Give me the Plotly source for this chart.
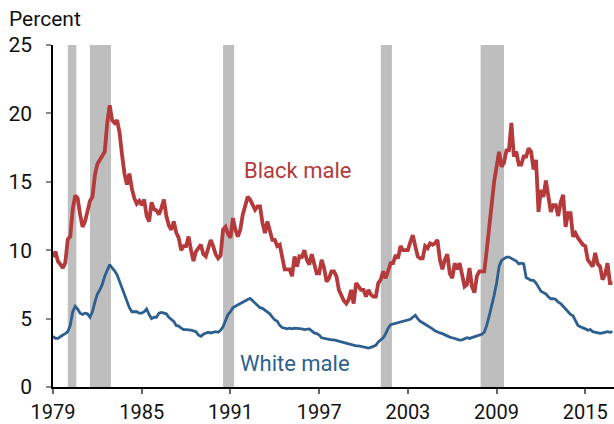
import plotly.graph_objects as go

years = list(range(1979, 2017))
months = [1, 3, 5, 7, 9, 11]

black_male = [
    9.5, 9.9, 9.2, 8.9, 8.7, 9.1,
    10.8, 11.0, 13.0, 14.0, 13.8, 12.6,
    11.7, 12.1, 12.9, 13.6, 13.9, 15.5,
    16.3, 16.6, 17.0, 17.2, 19.3, 20.6,
    19.5, 19.3, 19.5, 18.6, 17.0, 15.6,
    14.8, 15.6, 14.5, 13.8, 13.4, 13.6,
    13.3, 13.7, 12.5, 12.1, 13.5, 13.0,
    12.9, 12.6, 13.1, 13.7, 12.5, 11.8,
    11.5, 12.1, 11.3, 10.9, 10.0, 10.3,
    10.3, 11.0, 10.0, 9.2, 9.9, 10.2,
    10.4, 9.7, 9.55, 10.15, 10.75, 10.3,
    9.7, 9.4, 9.6, 11.5, 11.7, 11.2,
    10.9, 12.35, 11.5, 11.0, 11.5, 12.6,
    13.4, 13.9, 13.7, 13.3, 12.95, 13.2,
    13.2, 12.0, 11.25, 12.1, 11.4, 10.75,
    10.75, 10.3, 10.4, 9.3, 8.6, 8.6,
    8.6, 8.1, 9.55, 8.8, 9.55, 9.5,
    10.0, 9.3, 8.95, 9.7, 9.0, 8.3,
    8.3, 9.3, 8.7, 7.7, 7.95, 8.45,
    8.45, 8.1, 7.1, 6.6, 6.3, 6.1,
    6.4, 7.1, 6.1, 7.6, 7.4, 7.1,
    7.1, 6.6, 7.1, 6.75, 6.6, 6.6,
    7.6, 7.85, 8.45, 7.95, 8.5, 9.05,
    9.05, 9.65, 9.4, 10.3, 10.0, 10.0,
    10.0, 10.6, 11.1, 10.3, 9.55, 9.4,
    9.4, 10.3, 10.15, 10.5, 10.4, 10.5,
    10.75, 9.3, 8.6, 9.3, 9.7, 8.3,
    7.95, 9.05, 8.6, 9.05, 8.1, 7.35,
    7.5, 8.7, 7.35, 6.9, 8.1, 8.45,
    8.45, 8.45, 10.0, 11.8, 13.8, 15.0,
    16.1, 17.2, 16.1, 16.4, 17.3, 17.3,
    19.3, 16.85, 17.2, 16.25, 16.25, 16.85,
    16.85, 17.45, 17.2, 15.9, 16.6, 12.8,
    14.4, 13.9, 15.1, 13.8, 12.8, 13.3,
    13.3, 12.5, 13.5, 14.05, 11.7, 12.7,
    12.7, 11.0, 11.25, 10.9, 10.6, 10.4,
    10.3, 9.3, 9.05, 8.8, 9.8, 9.0,
    8.8, 7.85, 8.2, 9.05, 7.6, 7.6,
]

white_male = [
    3.7, 3.55, 3.55, 3.7, 3.8, 3.9,
    4.05, 4.5, 5.5, 5.9, 5.7, 5.4,
    5.3, 5.4, 5.35, 5.1, 5.5, 6.2,
    6.8, 7.1, 7.5, 8.1, 8.5, 8.95,
    8.7, 8.5, 8.2, 7.7, 7.35, 6.8,
    6.2, 5.8, 5.5, 5.5, 5.5, 5.4,
    5.4, 5.5, 5.7, 5.3, 5.0, 5.1,
    5.1, 5.4, 5.45, 5.4, 5.35, 5.1,
    4.95, 4.8, 4.5, 4.45, 4.3, 4.2,
    4.2, 4.2, 4.15, 4.1, 4.05, 3.8,
    3.7, 3.85, 3.95, 4.0, 3.95, 4.0,
    4.05, 4.0, 4.15, 4.4, 4.9, 5.3,
    5.5, 5.8, 5.9, 6.0, 6.1, 6.25,
    6.3, 6.4, 6.47, 6.3, 6.15, 6.0,
    5.8, 5.75, 5.6, 5.5, 5.35, 5.1,
    4.9, 4.8, 4.5, 4.35, 4.3, 4.25,
    4.3, 4.25, 4.3, 4.3, 4.25, 4.25,
    4.2, 4.2, 4.25, 4.1, 3.95, 3.9,
    3.8, 3.6, 3.55, 3.55, 3.5, 3.45,
    3.45, 3.4, 3.3, 3.25, 3.2, 3.15,
    3.15, 3.1, 3.05, 3.0, 3.0, 2.95,
    2.9, 2.87, 2.85, 2.9, 2.95, 3.05,
    3.3, 3.45, 3.6, 3.9, 4.3, 4.55,
    4.6, 4.7, 4.75, 4.75, 4.85, 4.9,
    4.9, 4.95, 5.1, 5.25, 5.0, 4.8,
    4.7, 4.6, 4.5, 4.4, 4.25, 4.1,
    4.0, 3.95, 3.9, 3.8, 3.7, 3.65,
    3.6, 3.55, 3.5, 3.43, 3.45, 3.5,
    3.6, 3.55, 3.6, 3.65, 3.7, 3.8,
    3.85, 4.0, 4.5, 5.2, 5.9, 6.7,
    7.6, 8.8, 9.25, 9.35, 9.5, 9.5,
    9.4, 9.3, 9.2, 9.0, 9.05, 9.0,
    8.0, 7.9, 7.8, 7.8, 7.6, 7.3,
    7.0, 6.9, 6.8, 6.6, 6.45, 6.45,
    6.4, 6.2, 6.1, 5.9, 5.7, 5.5,
    5.3, 5.2, 4.9, 4.5, 4.4, 4.35,
    4.25, 4.15, 4.2, 4.05, 4.0, 3.95,
    3.92, 3.95, 4.0, 4.05, 4.0, 4.05,
]

recessions = [(1980.0, 1980.58), (1981.5, 1982.92), (1990.5, 1991.25),
              (2001.17, 2001.92), (2007.92, 2009.5)]

tick_years = [1979, 1985, 1991, 1997, 2003, 2009, 2015]
y_ticks = [0, 5, 10, 15, 20, 25]

x = [y + (m - 1) / 12 for y in years for m in months]

RED = "#B53A3B"
BLUE = "#2C5F8F"
FONT = "Roboto"

fig = go.Figure()
fig.add_trace(go.Scatter(x=x, y=black_male, mode="lines",
                         line=dict(color=RED, width=3.8), showlegend=False))
fig.add_trace(go.Scatter(x=x, y=white_male, mode="lines",
                         line=dict(color=BLUE, width=2.8), showlegend=False))

for a, b in recessions:
    fig.add_shape(type="rect", xref="x", yref="y", x0=a, x1=b, y0=0, y1=25,
                  fillcolor="#BEBEBE", line=dict(width=0), layer="below")

fig.add_annotation(x=1995.55, y=15.8, text="Black male", showarrow=False,
                   font=dict(family=FONT, size=22, color=RED))
fig.add_annotation(x=1995.35, y=1.7, text="White male", showarrow=False,
                   font=dict(family=FONT, size=22, color=BLUE))
fig.add_annotation(xref="paper", yref="paper", x=-0.082, y=1.075, xanchor="left",
                   yanchor="middle", text="Percent", showarrow=False,
                   font=dict(family=FONT, size=21, color="#111"))

fig.update_layout(
    width=614, height=424,
    margin=dict(l=53, r=0, t=45, b=37, autoexpand=False),
    plot_bgcolor="white", paper_bgcolor="white",
    font=dict(family=FONT, size=21, color="#111"),
    xaxis=dict(range=[1979, 2016.94], tickvals=tick_years,
               ticktext=[str(t) for t in tick_years], automargin=False,
               tickfont=dict(size=20),
               showgrid=False, zeroline=False, showline=True, linecolor="black",
               linewidth=1.5, ticks="outside", ticklen=5, tickcolor="#666",
               tickwidth=1.5, ticklabelstandoff=1),
    yaxis=dict(range=[0, 25], tickvals=y_ticks, showgrid=False, zeroline=False,
               automargin=False,
               showline=True, linecolor="black", linewidth=1.5, ticks="outside",
               ticklen=5, tickcolor="#888", tickwidth=1.5, ticklabelstandoff=10),
)

fig.write_html("out.html", config={"displayModeBar": False},
               post_script="document.body.style.margin='0';document.body.style.overflow='hidden';")
